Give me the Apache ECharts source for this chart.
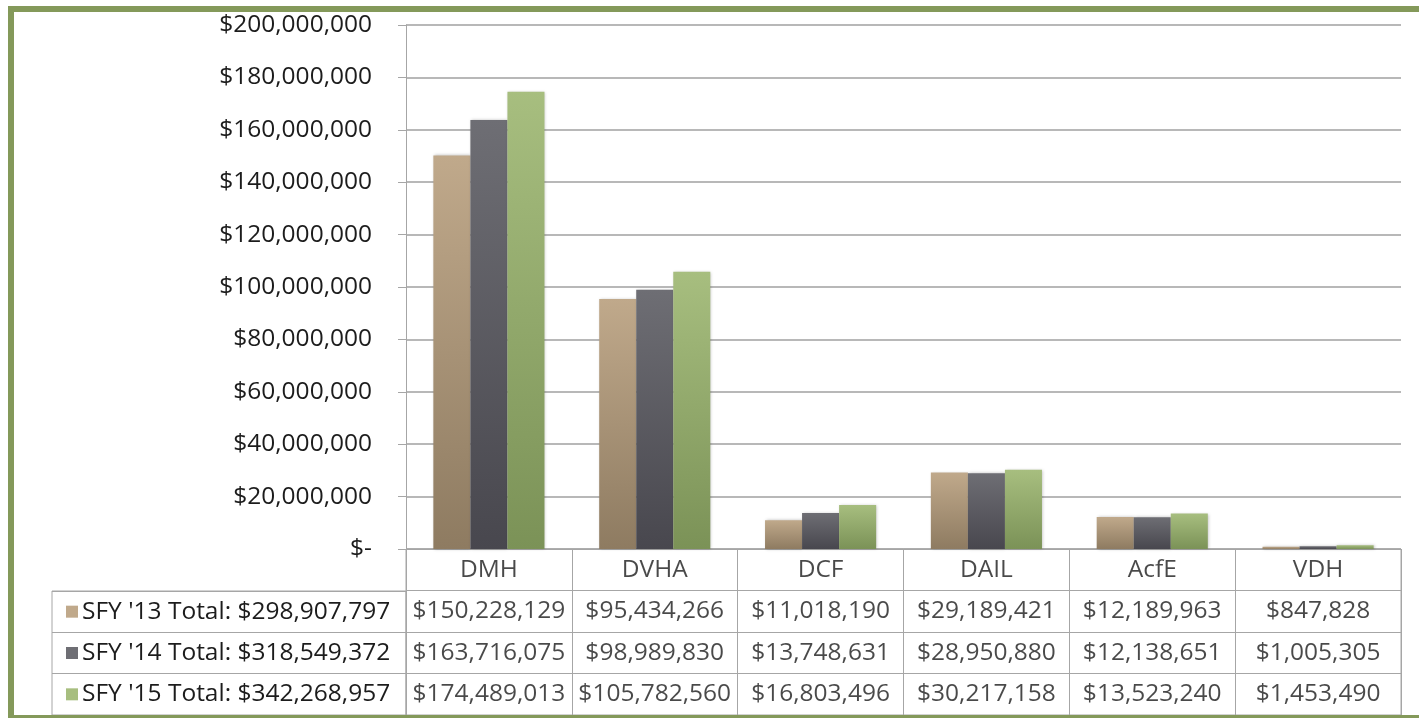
<!DOCTYPE html>
<html>
<head>
<meta charset="utf-8">
<script src="https://cdn.jsdelivr.net/npm/echarts@6/dist/echarts.min.js"></script>
<style>
  html, body { margin: 0; padding: 0; background: #fff; }
  #chart { width: 1419px; height: 718px; }
  .frame { position: absolute; background: #84995a; }
</style>
</head>
<body>
<div id="chart"></div>
<div class="frame" style="left:8px;top:6px;width:1411px;height:6px;"></div>
<div class="frame" style="left:8px;top:6px;width:6px;height:712px;"></div>
<div class="frame" style="left:8px;top:715px;width:1411px;height:3px;"></div>
<script>
// data
const categories = ['DMH', 'DVHA', 'DCF', 'DAIL', 'AcfE', 'VDH'];
const sfy13 = [150228129, 95434266, 11018190, 29189421, 12189963, 847828];
const sfy14 = [163716075, 98989830, 13748631, 28950880, 12138651, 1005305];
const sfy15 = [174489013, 105782560, 16803496, 30217158, 13523240, 1453490];
const seriesNames = ["SFY '13", "SFY '14", "SFY '15"];
const yMin = 0, yMax = 200000000, yStep = 20000000;

const allSeries = [sfy13, sfy14, sfy15];
const colors = [
  ['#c0a98b', '#8e7b61'],
  ['#6e6e74', '#48474e'],
  ['#a7be7f', '#7b9257']
];
const font = "'Open Sans', sans-serif";
const fs = 24.5;
const txt = '#1c1c1c';
const lineCol = '#a6a6a6';

function money(v) {
  return '$' + v.toLocaleString('en-US');
}

var myChart = echarts.init(document.getElementById('chart'));

// table cells: header row + one row per series
let rows = ['hdr'].concat(seriesNames);
let cells = [];
categories.forEach(function (c, i) {
  cells.push([i, 0, c]);
  allSeries.forEach(function (s, r) {
    cells.push([i, r + 1, money(s[i])]);
  });
});

let rich = {};
seriesNames.forEach(function (n, i) {
  rich['sq' + i] = { width: 12, height: 12, backgroundColor: colors[i][0] };
});
rich.t = { fontFamily: font, fontSize: fs, color: txt, padding: [0, 0, 0, 4] };

var option = {
  animation: false,
  textStyle: { fontFamily: font },
  grid: [
    { left: 406, right: 18, top: 25, height: 524 },
    { left: 406, right: 18, top: 549, height: 166, show: true, borderColor: lineCol, borderWidth: 1 },
    { left: 52, width: 354, top: 591, height: 124, show: true, borderColor: lineCol, borderWidth: 1 }
  ],
  xAxis: [
    {
      gridIndex: 0, type: 'category', data: categories,
      axisLine: { show: true, lineStyle: { color: lineCol } },
      axisTick: { show: false }, axisLabel: { show: false }
    },
    {
      gridIndex: 1, type: 'category', data: categories,
      axisLine: { show: false }, axisTick: { show: false }, axisLabel: { show: false },
      splitLine: { show: true, interval: 0, lineStyle: { color: lineCol } }
    },
    { gridIndex: 2, type: 'value', min: 0, max: 1, show: false }
  ],
  yAxis: [
    {
      gridIndex: 0, type: 'value', min: yMin, max: yMax, interval: yStep,
      axisLine: { show: true, lineStyle: { color: lineCol } },
      axisTick: { show: true, length: 8, lineStyle: { color: lineCol } },
      axisLabel: {
        margin: 34, fontSize: fs, color: txt, fontFamily: font,
        formatter: function (v) { return v === 0 ? '$-' : money(v); }
      },
      splitLine: { lineStyle: { color: '#a0a0a0', width: 1.5 } }
    },
    {
      gridIndex: 1, type: 'category', data: rows, inverse: true,
      axisLine: { show: false }, axisTick: { show: false }, axisLabel: { show: false },
      splitLine: { show: true, interval: 0, lineStyle: { color: lineCol } }
    },
    {
      gridIndex: 2, type: 'category', data: seriesNames, inverse: true,
      axisLine: { show: false }, axisTick: { show: false },
      splitLine: { show: true, interval: 0, lineStyle: { color: lineCol } },
      axisLabel: {
        inside: true, margin: 14, rich: rich,
        formatter: function (v, i) {
          let total = allSeries[i].reduce(function (a, b) { return a + b; }, 0);
          return '{sq' + i + '|}{t|' + v + ' Total: ' + money(total) + '}';
        }
      }
    }
  ],
  series: allSeries.map(function (s, i) {
    return {
      name: seriesNames[i], type: 'bar', xAxisIndex: 0, yAxisIndex: 0,
      barGap: '0%', barCategoryGap: '33%',
      data: s,
      itemStyle: {
        color: new echarts.graphic.LinearGradient(0, 0, 0, 1, [
          { offset: 0, color: colors[i][0] },
          { offset: 1, color: colors[i][1] }
        ]),
        shadowBlur: 3, shadowColor: 'rgba(0,0,0,0.25)', shadowOffsetX: 1
      }
    };
  }).concat([{
    type: 'scatter', xAxisIndex: 1, yAxisIndex: 1,
    symbolSize: 0, data: cells,
    label: {
      show: true, position: 'inside', fontSize: fs, color: txt, fontFamily: font,
      formatter: function (p) { return p.value[2]; }
    }
  }])
};
myChart.setOption(option);
</script>
</body>
</html>
